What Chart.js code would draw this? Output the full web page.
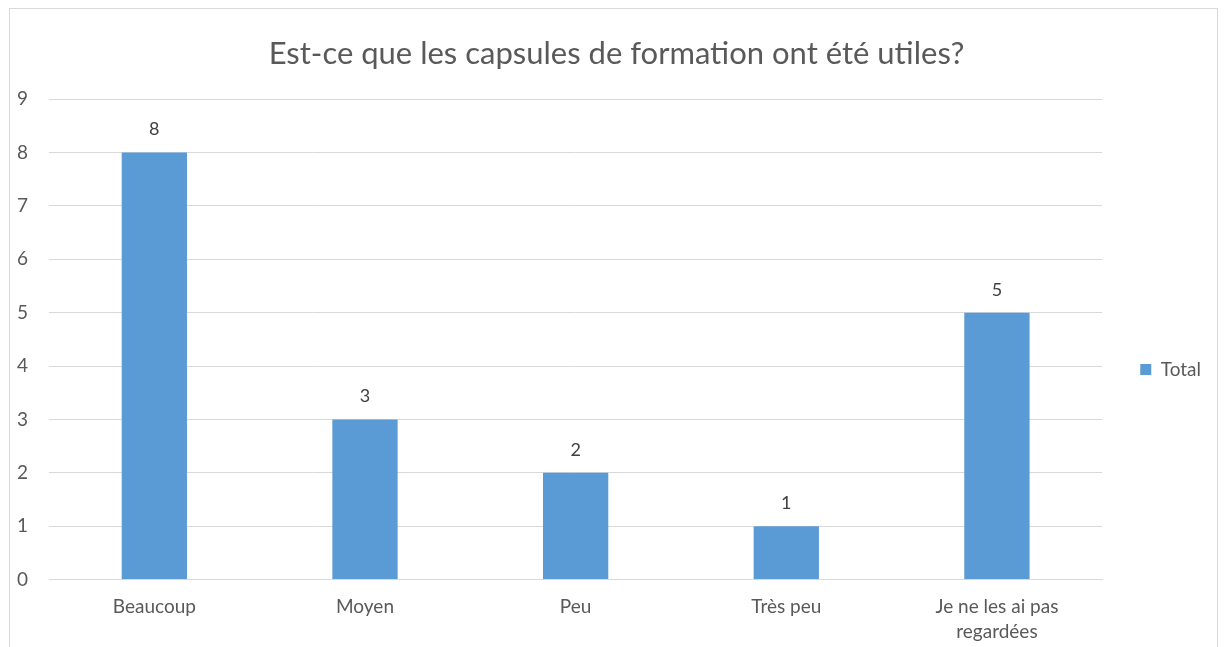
<!DOCTYPE html>
<html>
<head>
<meta charset="utf-8">
<script src="https://cdn.jsdelivr.net/npm/chart.js@4/dist/chart.umd.min.js"></script>
<style>
    body { margin: 0; background: #fff; }
    #frame {
        position: absolute; left: 9px; top: 8px;
        width: 1207px; height: 700px;
        border: 1px solid #d9d9d9;
    }
    #wrap { position: absolute; left: 0; top: 0; width: 1226px; height: 647px; }
</style>
</head>
<body>
<div id="frame"></div>
<div id="wrap"><canvas id="myChart" width="1226" height="647"></canvas></div>
<script>
const categories = ["Beaucoup", "Moyen", "Peu", "Très peu", ["Je ne les ai pas", "regardées"]];
const totals = [8, 3, 2, 1, 5];
const yTicks = [0, 1, 2, 3, 4, 5, 6, 7, 8, 9];

const fontName = "Lato, 'Open Sans', sans-serif";

// values written above each bar
const valueLabels = {
    id: "valueLabels",
    afterDatasetsDraw(chart) {
        const ctx = chart.ctx;
        const meta = chart.getDatasetMeta(0);
        ctx.save();
        ctx.font = "18px " + fontName;
        ctx.fillStyle = "#404040";
        ctx.textAlign = "center";
        ctx.textBaseline = "middle";
        meta.data.forEach(function (bar, i) {
            ctx.fillText(String(totals[i]), bar.x, bar.y - 23);
        });
        ctx.restore();
    }
};

// legend a bit lower, title centred on the frame
const nudge = {
    id: "nudge",
    afterLayout(chart) {
        chart.legend.top += 44;
        chart.legend.bottom += 44;
        chart.titleBlock.left += 13;
        chart.titleBlock.right += 13;
    }
};

new Chart(document.getElementById("myChart"), {
    type: "bar",
    data: {
        labels: categories,
        datasets: [{
            label: "Total",
            data: totals,
            backgroundColor: "#5b9bd5",
            barPercentage: 0.31,
            categoryPercentage: 1
        }]
    },
    options: {
        responsive: false,
        animation: false,
        layout: { padding: { left: -4, right: 15, top: 0, bottom: -4 } },
        plugins: {
            title: {
                display: true,
                text: "Est-ce que les capsules de formation ont été utiles?",
                color: "#595959",
                font: { family: fontName, size: 31, weight: "normal" },
                padding: { top: 35, bottom: 27 }
            },
            legend: {
                position: "right",
                labels: {
                    boxWidth: 11,
                    boxHeight: 11,
                    padding: 38,
                    color: "#595959",
                    font: { family: fontName, size: 19 }
                }
            },
            tooltip: { enabled: false }
        },
        scales: {
            x: {
                grid: { display: false },
                border: { color: "#d9d9d9" },
                ticks: {
                    color: "#595959",
                    padding: 7,
                    maxRotation: 0,
                    font: { family: fontName, size: 19, lineHeight: 1.3 }
                }
            },
            y: {
                min: 0,
                max: yTicks[yTicks.length - 1],
                grid: { color: "#d9d9d9", drawTicks: false },
                border: { display: false },
                afterBuildTicks(axis) {
                    axis.ticks = yTicks.map(function (v) { return { value: v }; });
                },
                ticks: {
                    color: "#595959",
                    padding: 21,
                    font: { family: fontName, size: 19 }
                }
            }
        }
    },
    plugins: [valueLabels, nudge]
});
</script>
</body>
</html>
